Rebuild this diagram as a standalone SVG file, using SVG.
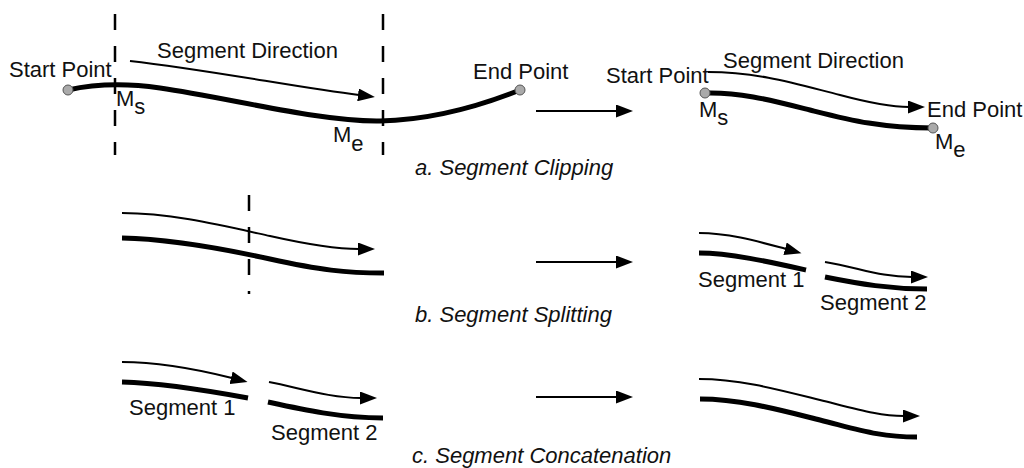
<svg xmlns="http://www.w3.org/2000/svg" width="1024" height="468" viewBox="0 0 1024 468">
<style>
text{font-family:"Liberation Sans",Arial,sans-serif;font-size:22px;fill:#111}
.cap{font-style:italic}
.thick{fill:none;stroke:#000;stroke-width:5;stroke-linecap:butt}
.thin{fill:none;stroke:#000;stroke-width:2}
.dash{fill:none;stroke:#000;stroke-width:2.5;stroke-dasharray:16 16}
.pt{fill:#aaa;stroke:#555;stroke-width:1}
</style>
<defs>
<marker id="ah" markerUnits="userSpaceOnUse" markerWidth="18" markerHeight="13" refX="1" refY="6.5" orient="auto">
<path d="M0,0 L17,6.5 L0,13 z" fill="#000"/>
</marker>
</defs>
<rect width="1024" height="468" fill="#fff"/>

<g id="cut-lines">
<line class="dash" x1="115" y1="14" x2="115" y2="155"/>
<line class="dash" x1="383" y1="14" x2="383" y2="155"/>
<line class="dash" x1="249" y1="195" x2="249" y2="294"/>
</g>

<g id="segments">
<path class="thick" d="M68,90 C95,84 125,83 160,88 C230,98 320,122 380,121 C430,120 480,106 520,90"/>
<path class="thick" d="M705,93 C740,92 770,100 810,110 C850,120 880,128 933,128"/>
<path class="thick" d="M122,238 C170,239 220,248 270,259 C320,270 345,273 384,273"/>
<path class="thick" d="M699,253 C730,253 770,262 806,270"/>
<path class="thick" d="M825,277 C860,284 890,289 927,289"/>
<path class="thick" d="M122,382 C160,383 210,391 248,398"/>
<path class="thick" d="M268,402 C300,409 340,418 383,418"/>
<path class="thick" d="M700,399 C740,399 780,410 820,420 C860,430 880,437 917,437"/>
</g>

<g id="connectors">
<path class="thin" marker-end="url(#ah)" d="M130,61 C210,70 300,88 359,95"/>
<path class="thin" marker-end="url(#ah)" d="M708,72 C760,72 800,85 840,95 C870,103 890,107 909,107"/>
<path class="thin" marker-end="url(#ah)" d="M122,213 C170,213 220,225 270,236 C310,245 335,249 359,249"/>
<path class="thin" marker-end="url(#ah)" d="M699,233 C730,233 760,242 786,249"/>
<path class="thin" marker-end="url(#ah)" d="M825,262 C860,268 880,277 912,277"/>
<path class="thin" marker-end="url(#ah)" d="M122,362 C160,362 200,370 232,378"/>
<path class="thin" marker-end="url(#ah)" d="M269,382 C300,388 330,398 361,398"/>
<path class="thin" marker-end="url(#ah)" d="M699,379 C740,379 780,390 820,400 C860,410 880,416 904,416"/>
<line class="thin" marker-end="url(#ah)" x1="536" y1="111" x2="617" y2="111"/>
<line class="thin" marker-end="url(#ah)" x1="536" y1="262" x2="617" y2="262"/>
<line class="thin" marker-end="url(#ah)" x1="536" y1="397" x2="617" y2="397"/>
</g>

<g id="points">
<circle class="pt" cx="68" cy="90" r="5"/>
<circle class="pt" cx="520" cy="90" r="5"/>
<circle class="pt" cx="705" cy="93" r="5"/>
<circle class="pt" cx="933" cy="128" r="5"/>
</g>

<g id="labels">
<text x="9" y="77">Start Point</text>
<text x="157" y="58">Segment Direction</text>
<text x="473" y="79">End Point</text>
<text x="116" y="106">M<tspan dy="8">s</tspan></text>
<text x="333" y="142">M<tspan dy="9">e</tspan></text>
<text x="606" y="83">Start Point</text>
<text x="723" y="68">Segment Direction</text>
<text x="927" y="117">End Point</text>
<text x="699" y="117">M<tspan dy="8">s</tspan></text>
<text x="935" y="149">M<tspan dy="8">e</tspan></text>
<text class="cap" x="415" y="175">a. Segment Clipping</text>
<text x="698" y="287">Segment 1</text>
<text x="820" y="310">Segment 2</text>
<text class="cap" x="415" y="322">b. Segment Splitting</text>
<text x="129" y="415">Segment 1</text>
<text x="271" y="440">Segment 2</text>
<text class="cap" x="412" y="463">c. Segment Concatenation</text>
</g>
</svg>
